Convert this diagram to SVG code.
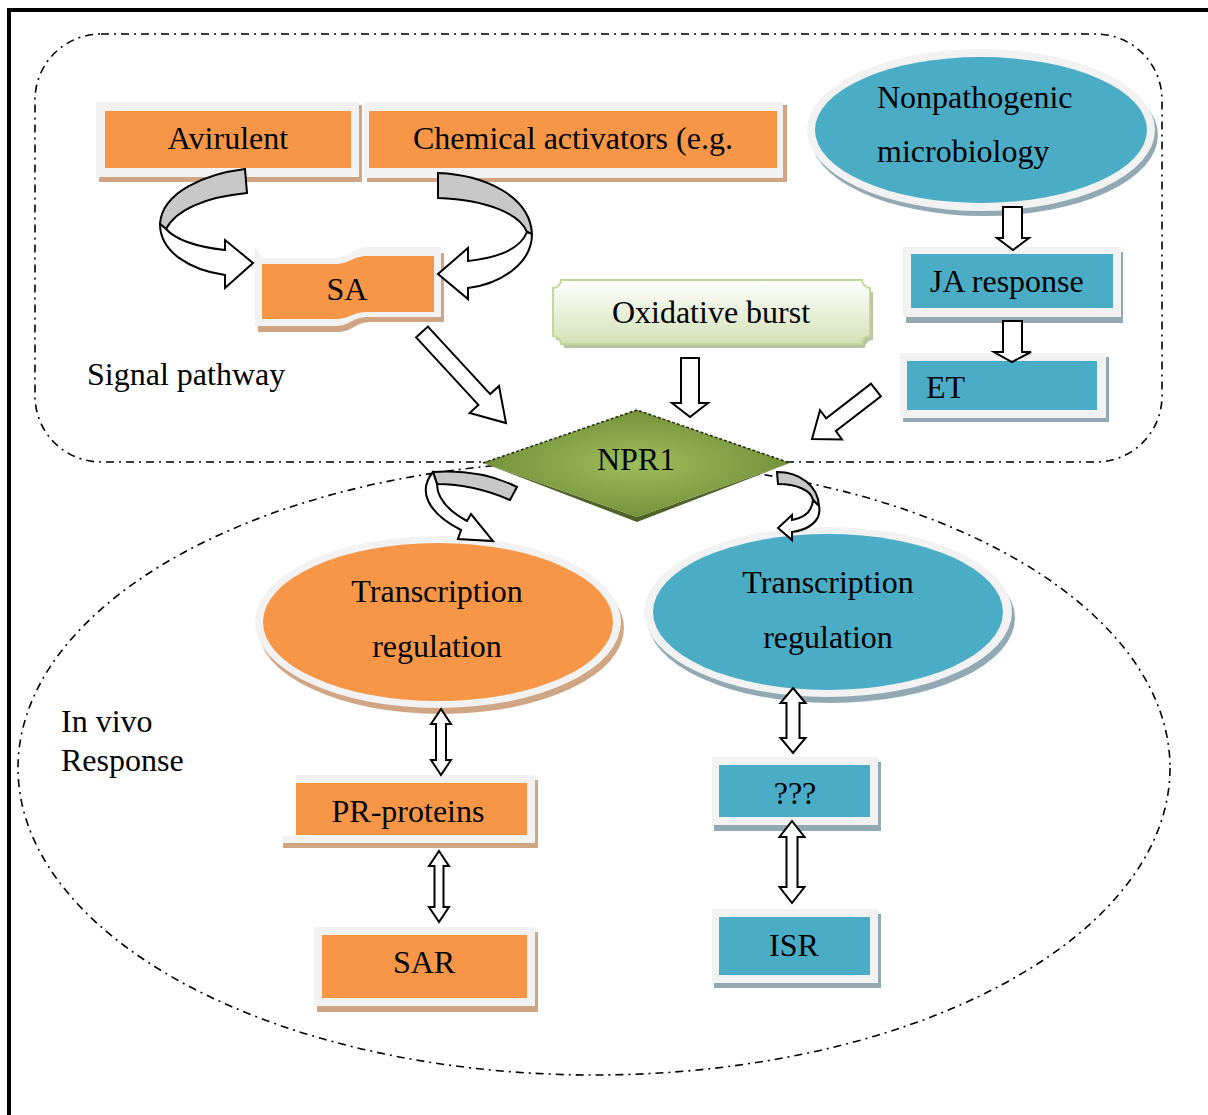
<svg xmlns="http://www.w3.org/2000/svg" width="1208" height="1115" viewBox="0 0 1208 1115">
  <style>
    .o { fill: #f79646; }
    .b { fill: #4bacc6; }
    .g { fill: #f2f2f2; }
    .ts { fill: #cfa583; }
    .bs { fill: #92a9b4; }
    .t { font-family: "Liberation Serif", "Times New Roman", serif; font-size: 32px; fill: #000; }
    .c { text-anchor: middle; }
    .arr { fill: #fff; stroke: #000; stroke-width: 2; stroke-linejoin: miter; }
    .rib { fill: #c8c8c8; stroke: #000; stroke-width: 2; }
    .dash { fill: none; stroke: #000; stroke-width: 1.6; stroke-dasharray: 8 5 2 5; }
  </style>
  <defs>
    <linearGradient id="greenPlaque" x1="0" y1="0" x2="0" y2="1">
      <stop offset="0" stop-color="#ffffff"/>
      <stop offset="1" stop-color="#d3e2b6"/>
    </linearGradient>
    <radialGradient id="npr" cx="0.5" cy="0.5" r="0.6">
      <stop offset="0" stop-color="#9dbd5a"/>
      <stop offset="1" stop-color="#6d8a35"/>
    </radialGradient>
  </defs>

  <rect width="1208" height="1115" fill="#fff"/>

  <!-- outer frame -->
  <rect x="9" y="10" width="1230" height="1140" fill="none" stroke="#000" stroke-width="4"/>

  <!-- region outlines -->
  <rect class="dash" x="35" y="34" width="1127" height="428" rx="66" ry="66"/>
  <ellipse class="dash" cx="594" cy="768" rx="576" ry="307"/>

  <!-- region labels -->
  <text class="t" x="87" y="385">Signal pathway</text>
  <text class="t" x="61" y="732">In vivo</text>
  <text class="t" x="61" y="771">Response</text>

  <g id="avirulent">
    <rect class="ts" x="99" y="105" width="263" height="77"/>
    <rect class="g" x="96" y="102" width="263" height="75"/>
    <rect class="o" x="105" y="111" width="246" height="57"/>
    <text class="t c" x="228" y="149">Avirulent</text>
  </g>

  <g id="chemical">
    <rect class="ts" x="367" y="105" width="420" height="77"/>
    <rect class="g" x="364" y="102" width="419" height="76"/>
    <rect class="o" x="369" y="111" width="408" height="57"/>
    <text class="t" x="413" y="149">Chemical activators (e.g.</text>
  </g>

  <g id="sa">
    <path class="ts" d="M258,253 L265,264 L338,264 C353,264 355,253 371,253 L444,253 L444,322 L371,322 C355,322 353,332 338,332 L258,332 Z"/>
    <path class="g" d="M255,247 L262,258 L335,258 C350,258 352,247 368,247 L441,247 L441,317 L368,317 C352,317 350,326 335,326 L255,326 Z"/>
    <path class="o" d="M262,264 L335,264 C350,264 352,256 368,256 L434,256 L434,312 L368,312 C352,312 350,319 335,319 L262,319 Z"/>
    <text class="t c" x="347" y="300">SA</text>
  </g>

  <g id="nonpathogenic">
    <ellipse class="bs" cx="984" cy="135" rx="174" ry="81"/>
    <ellipse class="g" cx="981" cy="130" rx="174" ry="81"/>
    <ellipse class="b" cx="981" cy="130" rx="166" ry="73"/>
    <text class="t" x="877" y="108">Nonpathogenic</text>
    <text class="t" x="877" y="162">microbiology</text>
  </g>

  <g id="ja">
    <rect class="bs" x="906" y="252" width="217" height="71"/>
    <rect class="g" x="903" y="247" width="218" height="70"/>
    <rect class="b" x="911" y="254" width="202" height="54"/>
    <text class="t" x="930" y="292">JA response</text>
  </g>

  <g id="et">
    <rect class="bs" x="903" y="357" width="206" height="65"/>
    <rect class="g" x="900" y="353" width="206" height="65"/>
    <rect class="b" x="907" y="361" width="190" height="49"/>
    <text class="t" x="926" y="398">ET</text>
  </g>

  <g id="oxidative">
    <path fill="#b9c3a5" d="M564,284 L865,284 A8,8 0 0 0 873,292 L873,340 A8,8 0 0 0 865,348 L564,348 A8,8 0 0 0 556,340 L556,292 A8,8 0 0 0 564,284 Z"/>
    <path fill="url(#greenPlaque)" stroke="#c3d69b" stroke-width="2" d="M561,280 L862,280 A8,8 0 0 0 870,288 L870,336 A8,8 0 0 0 862,344 L561,344 A8,8 0 0 0 553,336 L553,288 A8,8 0 0 0 561,280 Z"/>
    <text class="t c" x="711" y="323">Oxidative burst</text>
  </g>

  <g id="npr1">
    <polygon fill="#4f6228" points="483,463 637,522 790,463 637,517"/>
    <polygon fill="url(#npr)" points="637,410 790,463 637,517 483,463"/>
    <polyline fill="none" stroke="#1e2a0c" stroke-width="1.5" stroke-dasharray="3 2" points="483,463 637,410 790,463"/>
    <text class="t c" x="636" y="470">NPR1</text>
  </g>

  <g id="tr-orange">
    <ellipse class="ts" cx="441" cy="628" rx="183" ry="86"/>
    <ellipse class="g" cx="438" cy="622" rx="183" ry="86"/>
    <ellipse class="o" cx="438" cy="622" rx="175" ry="79"/>
    <text class="t c" x="437" y="602">Transcription</text>
    <text class="t c" x="437" y="657">regulation</text>
  </g>

  <g id="tr-blue">
    <ellipse class="bs" cx="831" cy="618" rx="184" ry="85"/>
    <ellipse class="g" cx="828" cy="612" rx="184" ry="85"/>
    <ellipse class="b" cx="828" cy="612" rx="175" ry="78"/>
    <text class="t c" x="828" y="593">Transcription</text>
    <text class="t c" x="828" y="648">regulation</text>
  </g>

  <g id="pr-proteins">
    <rect class="ts" x="299" y="780" width="239" height="68"/>
    <rect class="ts" x="283" y="842" width="18" height="6"/>
    <rect class="g" x="296" y="775" width="239" height="68"/>
    <rect class="g" x="283" y="836" width="14" height="7"/>
    <rect class="o" x="296" y="783" width="231" height="52"/>
    <text class="t c" x="408" y="822">PR-proteins</text>
  </g>

  <g id="sar">
    <rect class="ts" x="317" y="932" width="221" height="80"/>
    <rect class="g" x="314" y="927" width="221" height="79"/>
    <rect class="o" x="322" y="935" width="205" height="63"/>
    <text class="t c" x="424" y="973">SAR</text>
  </g>

  <g id="unknown">
    <rect class="bs" x="714" y="762" width="167" height="69"/>
    <rect class="g" x="712" y="757" width="166" height="68"/>
    <rect class="b" x="719" y="765" width="151" height="52"/>
    <text class="t c" x="795" y="804">???</text>
  </g>

  <g id="isr">
    <rect class="bs" x="714" y="914" width="167" height="74"/>
    <rect class="g" x="712" y="909" width="166" height="74"/>
    <rect class="b" x="719" y="917" width="151" height="58"/>
    <text class="t c" x="794" y="956">ISR</text>
  </g>

  <g id="connectors">
    <!-- Avirulent to SA -->
    <path class="rib" d="M245,169 C205,174 162,192 160,224 L166,229 C176,210 205,197 247,193 Z"/>
    <path class="arr" d="M160,224 C160,252 190,270 225,275 L225,288 L253,263 L225,240 L225,250 C198,247 176,240 166,229 Z"/>
    <!-- Chemical activators to SA -->
    <path class="rib" d="M438,173 C485,175 530,196 532,234 L527,232 C520,215 490,200 438,198 Z"/>
    <path class="arr" d="M532,234 C532,264 500,284 468,288 L468,299 L438,274 L468,248 L468,261 C495,258 520,250 527,232 Z"/>
    <!-- SA to NPR1 -->
    <polygon class="arr" points="427.9,326.6 490.2,394.1 499,386 506,423 469.6,413 478.4,404.9 416.1,337.4"/>
    <!-- Oxidative burst to NPR1 -->
    <polygon class="arr" points="681,358 699,358 699,403 708,403 690,417 672,403 681,403"/>
    <!-- ET to NPR1 -->
    <polygon class="arr" points="871,383.6 880.9,396.4 835.9,431 842,439.5 812,439 820,410.2 826.2,418.4"/>
    <!-- Nonpathogenic to JA -->
    <polygon class="arr" points="1003,207 1022,207 1022,238 1029,238 1013,250 997,238 1003,238"/>
    <!-- JA to ET -->
    <polygon class="arr" points="1003,321 1022,321 1022,352 1031,352 1012,362 994,352 1003,352"/>
    <!-- NPR1 to orange transcription -->
    <path class="rib" d="M433,472 C465,470 495,476 517,487 L510,500 C487,490 460,484 437,484 Z"/>
    <path class="arr" d="M433,472 C418,490 426,512 461,530 L458,539 L493,541 L471,514 L467,521 C447,510 437,498 437,484 Z"/>
    <!-- NPR1 to blue transcription -->
    <path class="rib" d="M777,472 C800,472 818,486 819,506 L813,500 C811,490 796,484 778,484 Z"/>
    <path class="arr" d="M819,506 C822,521 808,530 792,532 L792,540 L778,528 L792,515 L792,520 C804,518 812,512 813,500 Z"/>
    <!-- orange transcription / PR-proteins -->
    <polygon class="arr" points="441,709 451,724 446,724 446,760 451,760 441,775 431,760 436,760 436,724 431,724"/>
    <!-- PR-proteins / SAR -->
    <polygon class="arr" points="439,851 449,866 443.5,866 443.5,907 449,907 439,922 429,907 434.5,907 434.5,866 429,866"/>
    <!-- blue transcription / ??? -->
    <polygon class="arr" points="793,688 805.5,703 799.5,703 799.5,738 805.5,738 793,753 780.5,738 786.5,738 786.5,703 780.5,703"/>
    <!-- ??? / ISR -->
    <polygon class="arr" points="792,821 804.5,837 797.5,837 797.5,887 804.5,887 792,903 779.5,887 786.5,887 786.5,837 779.5,837"/>
  </g>
</svg>
